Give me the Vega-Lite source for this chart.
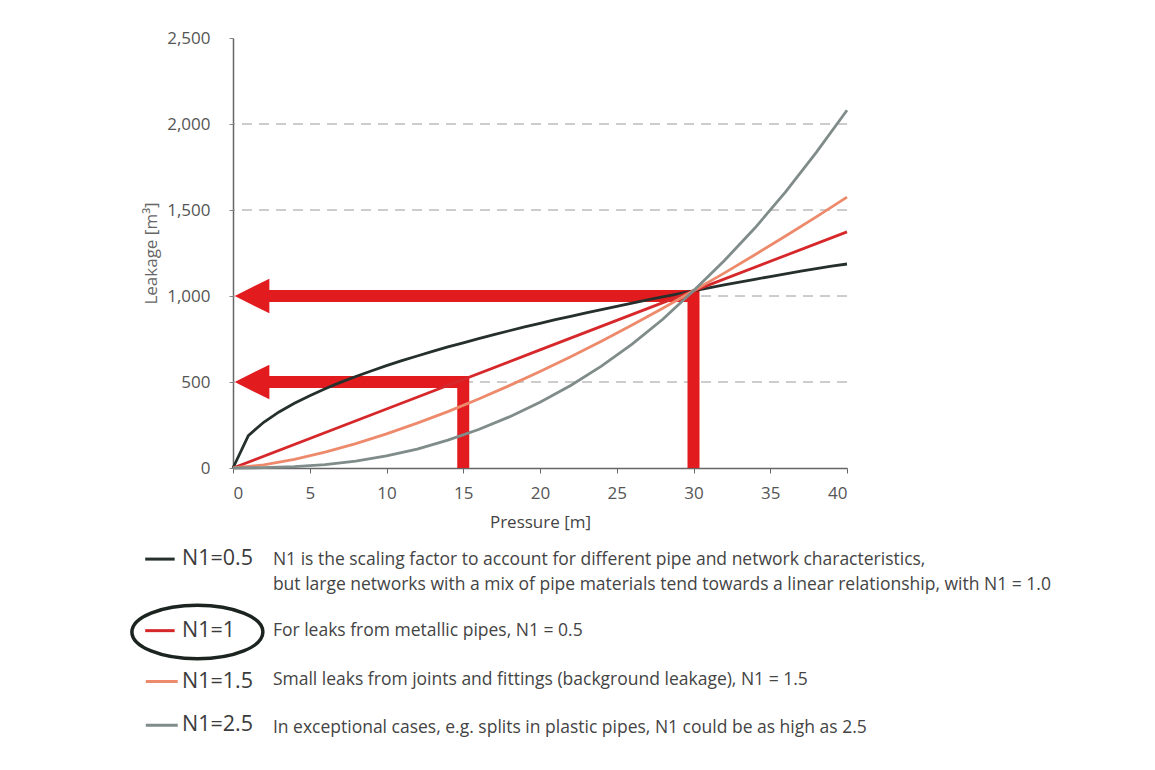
{
  "$schema": "https://vega.github.io/schema/vega-lite/v6.json",
  "background": "white",
  "padding": {"left": 124, "top": 29, "right": 0, "bottom": 0},
  "autosize": {"type": "pad"},
  "config": {
    "view": {"stroke": null},
    "font": "Open Sans",
    "axis": {"labelFont": "Open Sans", "titleFont": "Open Sans"}
  },
  "datasets": {
    "curves": [
      {"series": "N1=0.5", "P": 0, "L": 0}, {"series": "N1=0.5", "P": 1, "L": 188}, {"series": "N1=0.5", "P": 2, "L": 266},
      {"series": "N1=0.5", "P": 3, "L": 326}, {"series": "N1=0.5", "P": 4, "L": 376}, {"series": "N1=0.5", "P": 5, "L": 420},
      {"series": "N1=0.5", "P": 6, "L": 461}, {"series": "N1=0.5", "P": 7, "L": 498}, {"series": "N1=0.5", "P": 8, "L": 532},
      {"series": "N1=0.5", "P": 9, "L": 564}, {"series": "N1=0.5", "P": 10, "L": 595}, {"series": "N1=0.5", "P": 11, "L": 624},
      {"series": "N1=0.5", "P": 12, "L": 651}, {"series": "N1=0.5", "P": 13, "L": 678}, {"series": "N1=0.5", "P": 14, "L": 704},
      {"series": "N1=0.5", "P": 15, "L": 728}, {"series": "N1=0.5", "P": 16, "L": 752}, {"series": "N1=0.5", "P": 17, "L": 775},
      {"series": "N1=0.5", "P": 18, "L": 798}, {"series": "N1=0.5", "P": 19, "L": 820}, {"series": "N1=0.5", "P": 20, "L": 841},
      {"series": "N1=0.5", "P": 21, "L": 862}, {"series": "N1=0.5", "P": 22, "L": 882}, {"series": "N1=0.5", "P": 23, "L": 902},
      {"series": "N1=0.5", "P": 24, "L": 921}, {"series": "N1=0.5", "P": 25, "L": 940}, {"series": "N1=0.5", "P": 26, "L": 959},
      {"series": "N1=0.5", "P": 27, "L": 977}, {"series": "N1=0.5", "P": 28, "L": 995}, {"series": "N1=0.5", "P": 29, "L": 1013},
      {"series": "N1=0.5", "P": 30, "L": 1030}, {"series": "N1=0.5", "P": 31, "L": 1047}, {"series": "N1=0.5", "P": 32, "L": 1064},
      {"series": "N1=0.5", "P": 33, "L": 1080}, {"series": "N1=0.5", "P": 34, "L": 1097}, {"series": "N1=0.5", "P": 35, "L": 1113},
      {"series": "N1=0.5", "P": 36, "L": 1128}, {"series": "N1=0.5", "P": 37, "L": 1144}, {"series": "N1=0.5", "P": 38, "L": 1159},
      {"series": "N1=0.5", "P": 39, "L": 1174}, {"series": "N1=0.5", "P": 40, "L": 1186},
      {"series": "N1=1", "P": 0, "L": 0}, {"series": "N1=1", "P": 10, "L": 343}, {"series": "N1=1", "P": 20, "L": 687},
      {"series": "N1=1", "P": 30, "L": 1030}, {"series": "N1=1", "P": 40, "L": 1373},
      {"series": "N1=1.5", "P": 0, "L": 0}, {"series": "N1=1.5", "P": 2, "L": 18}, {"series": "N1=1.5", "P": 4, "L": 50},
      {"series": "N1=1.5", "P": 6, "L": 92}, {"series": "N1=1.5", "P": 8, "L": 142}, {"series": "N1=1.5", "P": 10, "L": 198},
      {"series": "N1=1.5", "P": 12, "L": 261}, {"series": "N1=1.5", "P": 14, "L": 328}, {"series": "N1=1.5", "P": 16, "L": 401},
      {"series": "N1=1.5", "P": 18, "L": 479}, {"series": "N1=1.5", "P": 20, "L": 561}, {"series": "N1=1.5", "P": 22, "L": 647},
      {"series": "N1=1.5", "P": 24, "L": 737}, {"series": "N1=1.5", "P": 26, "L": 831}, {"series": "N1=1.5", "P": 28, "L": 929},
      {"series": "N1=1.5", "P": 30, "L": 1030}, {"series": "N1=1.5", "P": 32, "L": 1133}, {"series": "N1=1.5", "P": 34, "L": 1240},
      {"series": "N1=1.5", "P": 36, "L": 1349}, {"series": "N1=1.5", "P": 38, "L": 1460}, {"series": "N1=1.5", "P": 40, "L": 1575},
      {"series": "N1=2.5", "P": 0, "L": 0}, {"series": "N1=2.5", "P": 2, "L": 2}, {"series": "N1=2.5", "P": 4, "L": 8},
      {"series": "N1=2.5", "P": 6, "L": 20}, {"series": "N1=2.5", "P": 8, "L": 40}, {"series": "N1=2.5", "P": 10, "L": 70},
      {"series": "N1=2.5", "P": 12, "L": 110}, {"series": "N1=2.5", "P": 14, "L": 162}, {"series": "N1=2.5", "P": 16, "L": 224},
      {"series": "N1=2.5", "P": 18, "L": 297}, {"series": "N1=2.5", "P": 20, "L": 382}, {"series": "N1=2.5", "P": 22, "L": 480},
      {"series": "N1=2.5", "P": 24, "L": 592}, {"series": "N1=2.5", "P": 26, "L": 720}, {"series": "N1=2.5", "P": 28, "L": 865},
      {"series": "N1=2.5", "P": 30, "L": 1030}, {"series": "N1=2.5", "P": 32, "L": 1205}, {"series": "N1=2.5", "P": 34, "L": 1395},
      {"series": "N1=2.5", "P": 36, "L": 1605}, {"series": "N1=2.5", "P": 38, "L": 1835}, {"series": "N1=2.5", "P": 40, "L": 2080}
    ],
    "grid": [{"L": 500}, {"L": 1000}, {"L": 1500}, {"L": 2000}],
    "arrows": [
      {"arrow": "upper", "seq": 1, "P": 2, "L": 1000},
      {"arrow": "upper", "seq": 2, "P": 30, "L": 1000},
      {"arrow": "upper", "seq": 3, "P": 30, "L": 0},
      {"arrow": "lower", "seq": 1, "P": 2, "L": 500},
      {"arrow": "lower", "seq": 2, "P": 15, "L": 500},
      {"arrow": "lower", "seq": 3, "P": 15, "L": 0}
    ],
    "heads": [{"P": 1.24, "L": 1000}, {"P": 1.24, "L": 500}],
    "legend": [
      {"series": "N1=0.5", "row": 0.18, "x1": -14.3, "x2": -9.5, "lx": -8.3},
      {"series": "N1=1", "row": 1.77, "x1": -14.3, "x2": -9.5, "lx": -8.3},
      {"series": "N1=1.5", "row": 2.9, "x1": -14.2, "x2": -9.0, "lx": -8.3},
      {"series": "N1=2.5", "row": 3.87, "x1": -14.2, "x2": -9.0, "lx": -8.3}
    ],
    "desc": [
      {"row": 0.2, "dx": 6.5, "text": "N1 is the scaling factor to account for different pipe and network characteristics,"},
      {"row": 0.75, "dx": 6.5, "text": "but large networks with a mix of pipe materials tend towards a linear relationship, with N1 = 1.0"},
      {"row": 1.78, "dx": 6.5, "text": "For leaks from metallic pipes, N1 = 0.5"},
      {"row": 2.87, "dx": 6.5, "text": "Small leaks from joints and fittings (background leakage), N1 = 1.5"},
      {"row": 3.93, "dx": 6.5, "text": "In exceptional cases, e.g. splits in plastic pipes, N1 could be as high as 2.5"}
    ],
    "ring": [{"cx": -5.8, "row": 1.8}]
  },
  "vconcat": [
    {
      "width": 614,
      "height": 430,
      "layer": [
        {
          "data": {"name": "grid"},
          "mark": {"type": "rule", "color": "#9a9a9a", "strokeWidth": 1, "strokeDash": [10, 7]},
          "encoding": {
            "y": {"field": "L", "type": "quantitative", "scale": {"domain": [0, 2500], "nice": false}}
          }
        },
        {
          "data": {"name": "arrows"},
          "mark": {"type": "line", "color": "#e21b1f", "strokeWidth": 12, "strokeJoin": "miter", "strokeCap": "butt"},
          "encoding": {
            "x": {"field": "P", "type": "quantitative"},
            "y": {"field": "L", "type": "quantitative"},
            "detail": {"field": "arrow"},
            "order": {"field": "seq"}
          }
        },
        {
          "data": {"name": "heads"},
          "mark": {"type": "point", "shape": "M-1,0L1,-1L1,1Z", "filled": true, "color": "#e21b1f", "opacity": 1, "size": 1200, "strokeWidth": 0},
          "encoding": {
            "x": {"field": "P", "type": "quantitative"},
            "y": {"field": "L", "type": "quantitative"}
          }
        },
        {
          "data": {"name": "curves"},
          "mark": {"type": "line", "strokeWidth": 2.8},
          "encoding": {
            "x": {
              "field": "P", "type": "quantitative",
              "scale": {"domain": [0, 40], "nice": false},
              "axis": {
                "values": [0, 5, 10, 15, 20, 25, 30, 35, 40],
                "title": "Pressure [m]",
                "grid": false,
                "domainColor": "#666", "domainWidth": 1.5,
                "tickColor": "#666", "tickSize": 5,
                "labelFontSize": 17, "labelColor": "#555", "labelPadding": 12,
                "titleFontSize": 17, "titleFontWeight": "normal", "titleColor": "#444", "titlePadding": 13
              }
            },
            "y": {
              "field": "L", "type": "quantitative",
              "scale": {"domain": [0, 2500], "nice": false},
              "axis": {
                "values": [0, 500, 1000, 1500, 2000, 2500],
                "format": ",d",
                "title": "Leakage [m³]",
                "grid": false,
                "domainColor": "#666", "domainWidth": 1.5,
                "tickColor": "#888", "tickSize": 4,
                "labelFontSize": 17, "labelColor": "#555", "labelPadding": 19,
                "titleFontSize": 17, "titleFontWeight": "normal", "titleColor": "#666", "titlePadding": 6
              }
            },
            "color": {
              "field": "series", "type": "nominal",
              "scale": {"domain": ["N1=0.5", "N1=1", "N1=1.5", "N1=2.5"], "range": ["#25302c", "#d6282b", "#ee8a6c", "#7f8c8a"]},
              "legend": null
            }
          }
        }
      ]
    },
    {
      "width": 614,
      "height": 180,
      "layer": [
        {
          "data": {"name": "legend"},
          "mark": {"type": "rule", "strokeWidth": 3},
          "encoding": {
            "x": {"field": "x1", "type": "quantitative", "scale": {"domain": [0, 100]}, "axis": null},
            "x2": {"field": "x2"},
            "y": {"field": "row", "type": "quantitative", "scale": {"domain": [0, 4], "reverse": true}, "axis": null},
            "color": {"field": "series", "type": "nominal", "legend": null}
          }
        },
        {
          "data": {"name": "legend"},
          "mark": {"type": "text", "align": "left", "baseline": "middle", "fontSize": 21.5, "color": "#3b3b3b", "font": "Open Sans"},
          "encoding": {
            "x": {"field": "lx", "type": "quantitative", "axis": null},
            "y": {"field": "row", "type": "quantitative", "axis": null},
            "text": {"field": "series"}
          }
        },
        {
          "data": {"name": "desc"},
          "mark": {"type": "text", "align": "left", "baseline": "middle", "fontSize": 17.5, "color": "#444", "font": "Open Sans"},
          "encoding": {
            "x": {"field": "dx", "type": "quantitative", "axis": null},
            "y": {"field": "row", "type": "quantitative", "axis": null},
            "text": {"field": "text"}
          }
        },
        {
          "data": {"name": "ring"},
          "mark": {"type": "point", "shape": "M-1,0A1,0.41,0,1,1,1,0A1,0.41,0,1,1,-1,0Z", "filled": false, "color": "#1c2420", "opacity": 1, "strokeWidth": 3.5, "size": 17161},
          "encoding": {
            "x": {"field": "cx", "type": "quantitative", "axis": null},
            "y": {"field": "row", "type": "quantitative", "axis": null}
          }
        }
      ]
    }
  ],
  "spacing": 83,
  "bounds": "flush"
}
